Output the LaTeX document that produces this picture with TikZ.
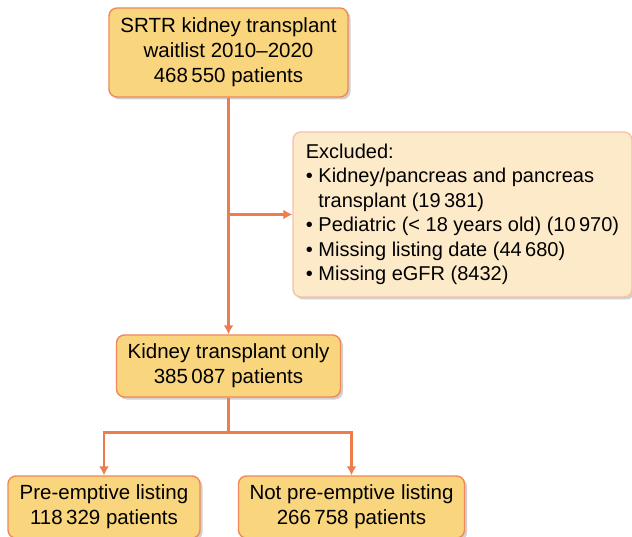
\documentclass[tikz,border=0pt]{standalone}
\usepackage{fontspec}
\setmainfont{Liberation Sans}
\usetikzlibrary{shadows,arrows.meta}
\definecolor{boxfill}{RGB}{249,214,126}
\definecolor{boxline}{RGB}{240,136,88}
\definecolor{exfill}{RGB}{252,234,201}
\definecolor{exline}{RGB}{246,194,168}
\definecolor{flowline}{RGB}{238,125,78}

\begin{document}
\begin{tikzpicture}[x=1pt,y=-1pt,
  stage/.style={draw=boxline,line width=1.4pt,fill=boxfill,rounded corners=8pt,align=center,inner sep=0pt,
    drop shadow={shadow xshift=2.5pt,shadow yshift=-2.5pt,fill=black,opacity=0.18},
    font=\fontsize{20.5}{25}\selectfont},
  exclbox/.style={stage,draw=exline,fill=exfill,align=left,font=\fontsize{20}{24.5}\selectfont},
  flow/.style={draw=flowline,line width=2.6pt,-{Latex[length=9pt,width=10pt]}}]
\useasboundingbox (0,0) rectangle (632,537);
\node[stage,minimum width=239pt,minimum height=89pt] (srtr) at (228.5,52.5) {SRTR kidney transplant\\waitlist 2010--2020\\468\,550 patients};
\node[exclbox,minimum width=339pt,minimum height=165pt] (excl) at (462.5,214.5) {Excluded:\\
• Kidney/pancreas and pancreas\\
\phantom{• }transplant (19\,381)\\
• Pediatric (< 18 years old) (10\,970)\\
• Missing listing date (44\,680)\\
• Missing eGFR (8432)};
\node[stage,minimum width=224pt,minimum height=62pt] (kidney) at (228.5,366) {Kidney transplant only\\385\,087 patients};
\node[stage,minimum width=192pt,minimum height=62pt] (pre) at (104,507) {Pre-emptive listing\\118\,329 patients};
\node[stage,minimum width=226pt,minimum height=62pt] (notpre) at (351.5,507) {Not pre-emptive listing\\266\,758 patients};
\coordinate (branch) at (srtr.south |- excl.west);
\draw[flow] (srtr) -- (kidney);
\draw[flow] (branch) -- (excl);
\draw[flow] (kidney.south) -- ++(0,35) -| (pre.north);
\draw[flow] (kidney.south) -- ++(0,35) -| (notpre.north);
\end{tikzpicture}
\end{document}
